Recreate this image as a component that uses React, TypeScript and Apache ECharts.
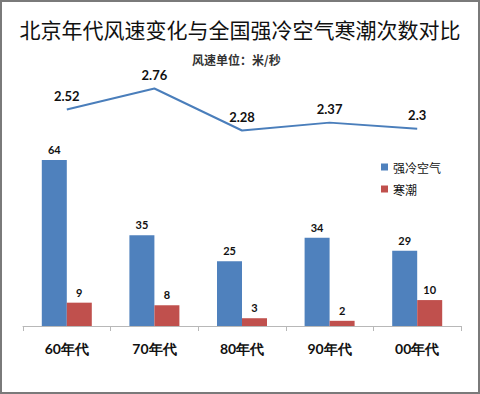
import React, { useEffect, useRef } from "react";
import * as echarts from "echarts";

const categories = ["60年代", "70年代", "80年代", "90年代", "00年代"];
const coldAir = [64, 35, 25, 34, 29];
const coldWave = [9, 8, 3, 2, 10];
const windSpeed = [2.52, 2.76, 2.28, 2.37, 2.3];

const CJK = '"Noto Sans CJK SC", "Noto Sans", sans-serif';
const NUM = 'Lato, "Noto Sans", sans-serif';

export default function App() {
  const ref = useRef<HTMLDivElement>(null);
  useEffect(() => {
    if (!ref.current) return;
    const chart = echarts.init(ref.current, undefined, { renderer: "svg" });
    chart.setOption({
      animation: false,
      backgroundColor: "#ffffff",
      title: [
        {
          text: "北京年代风速变化与全国强冷空气寒潮次数对比",
          left: "center",
          top: 13,
          textStyle: { fontFamily: CJK, fontSize: 21, fontWeight: "normal", color: "#111" },
        },
        {
          text: "风速单位：米/秒",
          left: 187,
          top: 48,
          textStyle: { fontFamily: CJK, fontSize: 12, fontWeight: "bold", color: "#333" },
        },
      ],
      legend: {
        orient: "vertical",
        left: 376,
        top: 156,
        itemWidth: 7,
        itemHeight: 7,
        itemGap: 10,
        icon: "rect",
        data: ["强冷空气", "寒潮"],
        textStyle: { fontFamily: CJK, fontSize: 12, color: "#111", padding: [0, 0, 0, 0] },
      },
      grid: [
        { left: 23, right: 19, top: 46, bottom: 68 },
        { left: 23, right: 19, top: 50, bottom: 64 },
      ],
      xAxis: [
        {
          type: "category",
          gridIndex: 0,
          data: categories,
          axisLine: { lineStyle: { color: "#b8b8b8", width: 1 } },
          axisTick: { show: true, length: 5, lineStyle: { color: "#b8b8b8" } },
          axisLabel: {
            margin: 15,
            fontFamily: NUM,
            fontSize: 14,
            fontWeight: "bold",
            color: "#111",
          },
        },
        {
          type: "category",
          gridIndex: 1,
          data: categories,
          show: false,
        },
      ],
      yAxis: [
        { type: "value", gridIndex: 0, min: 0, max: 108, show: false, splitLine: { show: false } },
        { type: "value", gridIndex: 1, min: 0, max: 3.2, show: false, splitLine: { show: false } },
      ],
      series: [
        {
          name: "强冷空气",
          type: "bar",
          xAxisIndex: 0,
          yAxisIndex: 0,
          data: coldAir,
          barWidth: 25,
          barGap: "0%",
          itemStyle: { color: "#4F81BD" },
          label: {
            show: true,
            position: "top",
            distance: 5,
            fontFamily: NUM,
            fontSize: 11,
            fontWeight: "bold",
            color: "#111",
          },
        },
        {
          name: "寒潮",
          type: "bar",
          xAxisIndex: 0,
          yAxisIndex: 0,
          data: coldWave,
          barWidth: 25,
          barGap: "0%",
          itemStyle: { color: "#C0504D" },
          label: {
            show: true,
            position: "top",
            distance: 5,
            fontFamily: NUM,
            fontSize: 11,
            fontWeight: "bold",
            color: "#111",
          },
        },
        {
          name: "风速",
          type: "line",
          xAxisIndex: 1,
          yAxisIndex: 1,
          data: windSpeed,
          symbol: "circle",
          symbolSize: 2,
          showSymbol: true,
          lineStyle: { color: "#4A7EBB", width: 2 },
          itemStyle: { color: "rgba(74,126,187,0)" },
          label: {
            show: true,
            position: "top",
            distance: 6,
            fontFamily: NUM,
            fontSize: 13,
            fontWeight: "bold",
            color: "#111",
          },
        },
      ],
      graphic: [
        {
          type: "rect",
          shape: { x: 1, y: 1, width: 478, height: 392 },
          style: { fill: "none", stroke: "#7a7a7a", lineWidth: 2 },
          silent: true,
        },
      ],
    });
    return () => chart.dispose();
  }, []);
  return (
    <div
      ref={ref}
      style={{ position: "absolute", left: 0, top: 0, width: 480, height: 394 }}
    />
  );
}
